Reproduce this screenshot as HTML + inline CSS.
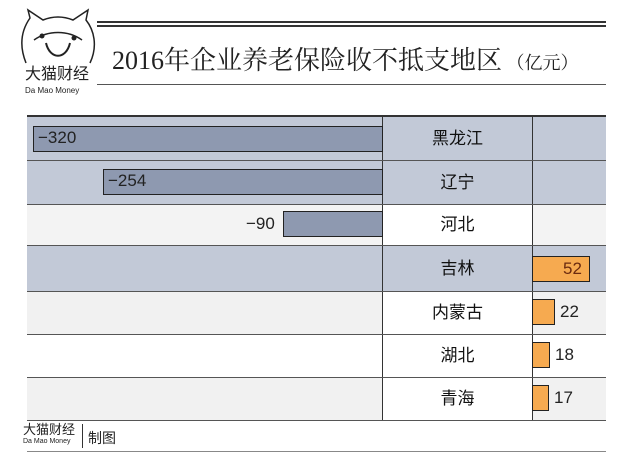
<!DOCTYPE html>
<html><head><meta charset="utf-8"><style>
body{margin:0;width:640px;height:459px;background:#fff;overflow:hidden;position:relative;font-family:"Liberation Sans","Noto Sans CJK SC",sans-serif}
.a{position:absolute}
.row{position:absolute;left:27px;width:579px;border-bottom:1px solid #555}
.lab{position:absolute;left:355px;width:151px;text-align:center;font-size:17px;color:#111;border-left:1px solid #333;border-right:1px solid #333;height:100%;box-sizing:border-box}
.nb{position:absolute;background:#8e99b0;border:1.5px solid #222;box-sizing:border-box;height:26px}
.pb{position:absolute;left:532px;background:#f6aa50;border:1.5px solid #222;box-sizing:border-box;height:26px}
.v{position:absolute;font-size:17px;color:#222}
</style></head><body>
<svg class="a" style="left:18px;top:8px" width="80" height="60" viewBox="0 0 80 60">
<path d="M8 55 C0 35 5 20 12 10 L10 2 L25 12 C35 8 45 8 55 12 L70 2 L68 12 C76 22 80 38 72 55" fill="none" stroke="#222" stroke-width="1.5"/>
<path d="M16 32 C30 22 50 22 64 32" fill="none" stroke="#222" stroke-width="1.5"/>
<path d="M28 35 C32 52 48 52 52 35" fill="none" stroke="#222" stroke-width="2"/>
<circle cx="24" cy="28" r="2.5" fill="#222"/><circle cx="56" cy="30" r="2.5" fill="#222"/>
</svg>
<div class="a" style="left:25px;top:66px;font-size:16px;line-height:18px;color:#222">大猫财经</div>
<div class="a" style="left:25px;top:86px;font-size:8px;line-height:9px;color:#222">Da Mao Money</div>
<div class="a" style="left:97px;top:21px;width:509px;height:2px;background:#333"></div>
<div class="a" style="left:97px;top:25px;width:509px;height:2px;background:#333"></div>
<div class="a" style="left:97px;top:84px;width:509px;height:1px;background:#555"></div>
<div class="a" style="left:112px;top:40px;font-family:'Liberation Serif','Noto Serif CJK SC',serif;font-size:26px;color:#222;white-space:nowrap">2016年企业养老保险收不抵支地区<span style="font-size:18px"> （亿元）</span></div>
<div class="a" style="left:27px;top:115px;width:579px;height:2px;background:#333"></div>

<div class="row" style="top:117px;height:43px;background:#c2c9d7"><div class="lab" style="line-height:43px">黑龙江</div></div>
<div class="row" style="top:161px;height:43px;background:#c2c9d7"><div class="lab" style="line-height:43px">辽宁</div></div>
<div class="row" style="top:205px;height:40px;background:#f3f3f3"><div class="lab" style="line-height:40px;background:#fff">河北</div></div>
<div class="row" style="top:246px;height:45px;background:#c2c9d7"><div class="lab" style="line-height:45px">吉林</div></div>
<div class="row" style="top:292px;height:42px;background:#f1f1f1"><div class="lab" style="line-height:42px;background:#fff">内蒙古</div></div>
<div class="row" style="top:335px;height:42px;background:#fff"><div class="lab" style="line-height:42px;background:#fff">湖北</div></div>
<div class="row" style="top:378px;height:42px;background:#f1f1f1"><div class="lab" style="line-height:42px;background:#fff">青海</div></div>

<div class="nb" style="left:33px;width:350px;top:126px"></div><div class="v" style="left:38px;top:128px">−320</div>
<div class="nb" style="left:103px;width:280px;top:169px"></div><div class="v" style="left:108px;top:171px">−254</div>
<div class="nb" style="left:283px;width:100px;top:211px"></div><div class="v" style="left:246px;top:214px">−90</div>
<div class="pb" style="width:58px;top:256px"></div><div class="v" style="left:563px;top:259px;color:#6a2a10">52</div>
<div class="pb" style="width:23px;top:299px"></div><div class="v" style="left:560px;top:302px">22</div>
<div class="pb" style="width:18px;top:342px"></div><div class="v" style="left:555px;top:345px">18</div>
<div class="pb" style="width:17px;top:385px"></div><div class="v" style="left:554px;top:388px">17</div>

<div class="a" style="left:23px;top:422px;font-size:13px;line-height:15px;color:#222">大猫财经</div>
<div class="a" style="left:23px;top:438px;font-size:7px;line-height:8px;color:#222">Da Mao Money</div>
<div class="a" style="left:82px;top:424px;width:1px;height:24px;background:#333"></div>
<div class="a" style="left:88px;top:428px;font-size:14px;color:#222">制图</div>
<div class="a" style="left:27px;top:451px;width:579px;height:1px;background:#888"></div>
</body></html>
